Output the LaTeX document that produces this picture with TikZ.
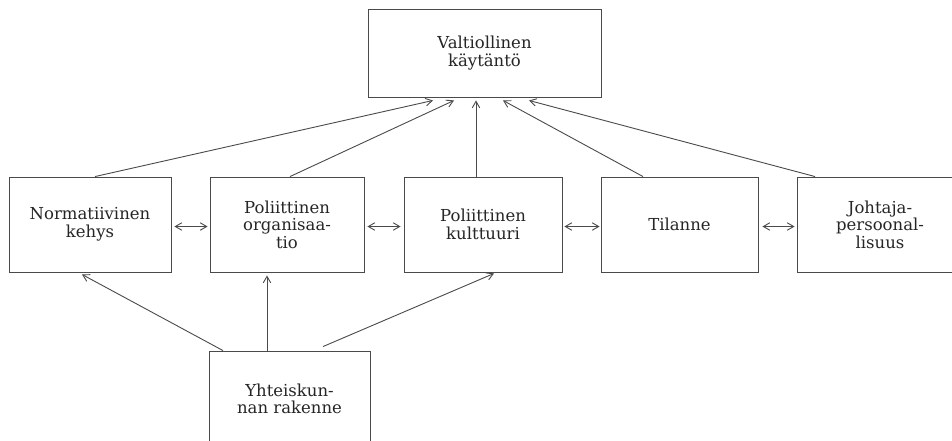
\documentclass[tikz,border=0pt]{standalone}
\usepackage{fontspec}
\setmainfont{DejaVu Serif}
\usetikzlibrary{arrows.meta,calc}
\definecolor{linec}{HTML}{4A4A4A}
\definecolor{textc}{HTML}{262626}
\begin{document}
\begin{tikzpicture}[x=1pt,y=-1pt,
  box/.style={draw=linec, line width=0.9pt, align=center, inner sep=0pt, text=textc,
    font=\fontsize{16.5}{17.5}\selectfont},
  arr/.style={draw=linec, line width=0.9pt, -{Straight Barb[length=6.5pt,width=7.5pt]}},
  dbl/.style={draw=linec, line width=0.9pt,
    {Straight Barb[length=6.5pt,width=7.5pt]}-{Straight Barb[length=6.5pt,width=7.5pt]}}]
\useasboundingbox (0,0) rectangle (952,440);
\fill[white] (0,0) rectangle (952,440);

\node[box, minimum width=233pt, minimum height=88pt] (top) at (484.5,53) {Valtiollinen\\käytäntö};

\node[box, minimum width=162pt, minimum height=95pt] (b1) at (90,224.5) {Normatiivinen\\kehys};
\node[box, minimum width=154pt, minimum height=95pt] (b2) at (287,224.5) {Poliittinen\\organisaa-\\tio};
\node[box, minimum width=158pt, minimum height=95pt] (b3) at (483,224.5) {Poliittinen\\kulttuuri};
\node[box, minimum width=157pt, minimum height=95pt] (b4) at (679.5,224.5) {Tilanne};
\node[box, minimum width=166pt, minimum height=95pt] (b5) at (880,224.5) {Johtaja-\\persoonal-\\lisuus};

\node[box, minimum width=161pt, minimum height=96pt] (bot) at (289.5,399) {Yhteiskun-\\nan rakenne};

% upward arrows into top box
\draw[arr] ($(b1.north)+(5,0)$) -- ($(top.south)+(-51.5,3)$);
\draw[arr] ($(b2.north)+(3,0)$) -- ($(top.south)+(-30.5,3)$);
\draw[arr] ($(b3.north)+(-7,0)$) -- ($(top.south)+(-8.5,3)$);
\draw[arr] ($(b4.north)+(-36.5,0)$) -- ($(top.south)+(18.5,3)$);
\draw[arr] ($(b5.north)+(-65,0)$) -- ($(top.south)+(44.5,3)$);

% arrows from the bottom box
\draw[arr] ($(bot.north)+(-66.5,0)$) -- ($(b1.south)+(-8,2)$);
\draw[arr] ($(bot.north)+(-22.5,0)$) -- ($(b2.south)+(-20,3)$);
\draw[arr] ($(bot.north)+(33.5,-4)$) -- ($(b3.south)+(11,1)$);

% double arrows between row boxes
\draw[dbl] ($(b1.east)+(3,2)$) -- ($(b2.west)+(-2,2)$);
\draw[dbl] ($(b2.east)+(3,2)$) -- ($(b3.west)+(-3,2)$);
\draw[dbl] ($(b3.east)+(2,2)$) -- ($(b4.west)+(-1,2)$);
\draw[dbl] ($(b4.east)+(4,2)$) -- ($(b5.west)+(-2,2)$);
\end{tikzpicture}
\end{document}
